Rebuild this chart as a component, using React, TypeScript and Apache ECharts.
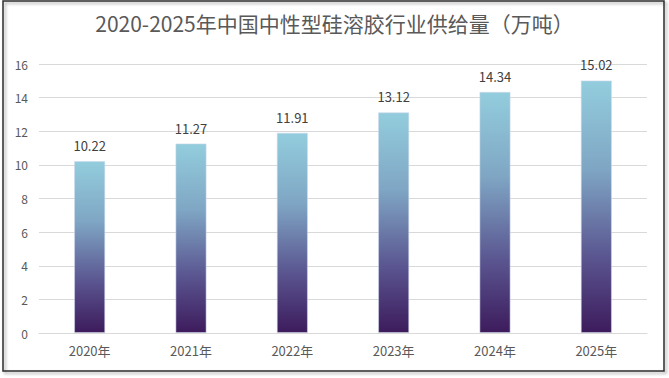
import React, { useEffect, useRef } from "react";
import * as echarts from "echarts";

const title = "2020-2025年中国中性型硅溶胶行业供给量（万吨）";
const categories = ["2020年", "2021年", "2022年", "2023年", "2024年", "2025年"];
const supply = [10.22, 11.27, 11.91, 13.12, 14.34, 15.02];
const yTicks = { min: 0, max: 16, interval: 2 };

export default function App() {
  const ref = useRef<HTMLDivElement>(null);
  useEffect(() => {
    document.body.style.margin = "0";
    const chart = echarts.init(ref.current!, null, { renderer: "svg" });
    chart.setOption({
      animation: false,
      backgroundColor: "#ffffff",
      textStyle: { fontFamily: "'Noto Sans CJK SC', 'Open Sans', sans-serif" },
      title: {
        text: title,
        left: "center",
        top: 7,
        textStyle: {
          fontSize: 21,
          fontWeight: "normal",
          color: "#595959",
          fontFamily: "'Noto Sans CJK SC', sans-serif",
        },
      },
      graphic: [
        {
          type: "rect",
          shape: { x: 3, y: 1, width: 661, height: 370 },
          style: {
            fill: "none",
            stroke: "#2b2b2b",
            lineWidth: 1.5,
            shadowColor: "rgba(0,0,0,0.35)",
            shadowBlur: 3,
            shadowOffsetX: 2,
            shadowOffsetY: 2,
          },
          z: 10,
          silent: true,
        },
      ],
      grid: { left: 39, right: 22, top: 64, bottom: 45, containLabel: false },
      xAxis: {
        type: "category",
        data: categories,
        axisLine: { show: true, lineStyle: { color: "#D9D9D9", width: 1 } },
        axisTick: { show: false },
        axisLabel: { color: "#595959", fontSize: 13, margin: 11 },
      },
      yAxis: {
        type: "value",
        min: yTicks.min,
        max: yTicks.max,
        interval: yTicks.interval,
        axisLine: { show: false },
        axisTick: { show: false },
        splitLine: { lineStyle: { color: "#D9D9D9", width: 1 } },
        axisLabel: { color: "#595959", fontSize: 12, margin: 11 },
      },
      series: [
        {
          type: "bar",
          data: supply,
          barWidth: 31,
          itemStyle: {
            color: new echarts.graphic.LinearGradient(0, 0, 0, 1, [
              { offset: 0, color: "#93CDDD" },
              { offset: 0.35, color: "#7FA6C4" },
              { offset: 0.7, color: "#5A5590" },
              { offset: 1, color: "#3D1B5C" },
            ]),
            borderColor: "rgba(205,215,235,0.7)",
            borderWidth: 0.8,
          },
          label: {
            show: true,
            position: "top",
            distance: 9,
            color: "#404040",
            fontSize: 13,
            formatter: (p: any) => p.value.toFixed(2),
          },
        },
      ],
    });
    return () => chart.dispose();
  }, []);
  return <div ref={ref} style={{ width: 669, height: 378 }} />;
}
